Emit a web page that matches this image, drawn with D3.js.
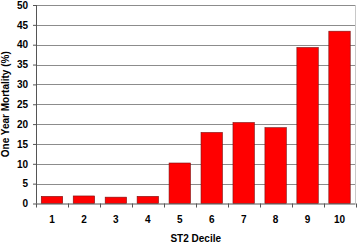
<!DOCTYPE html>
<html lang=en>
<head>
<meta charset="utf-8">
<style>
  body { margin: 0; background: #fff; }
  svg { font-family: 'Liberation Sans', Arial, sans-serif; font-weight: bold; }
  .grid line { stroke: #8c8c8c; stroke-width: 1; }
  .axis text { font-size: 10px; fill: #000; font-weight: bold; }
</style>
<script src="https://d3js.org/d3.v7.min.js"></script>
</head>
<body>
<div id="chart"></div>
<script>
// deciles and one-year mortality (%)
var deciles = ["1", "2", "3", "4", "5", "6", "7", "8", "9", "10"];
var mortality = [1.8, 1.9, 1.6, 1.8, 10.2, 17.9, 20.4, 19.1, 39.3, 43.4];
var yTicks = [0, 5, 10, 15, 20, 25, 30, 35, 40, 45, 50];

(function() {
  var width = 357, height = 243;
  var margin = {top: 5, right: 1.5, bottom: 39.5, left: 36};
  var w = width - margin.left - margin.right,
      h = height - margin.top - margin.bottom;

  var svg = d3.select("#chart").append("svg")
      .attr("width", width)
      .attr("height", height);
  var g = svg.append("g")
      .attr("transform", "translate(" + margin.left + "," + margin.top + ")");

  var x = d3.scaleBand()
      .domain(deciles)
      .range([0, w])
      .paddingInner(0.33)
      .paddingOuter(0.165);
  var y = d3.scaleLinear()
      .domain([0, 50])
      .range([h, 0]);

  // gridlines
  g.append("g")
      .attr("class", "grid")
    .selectAll("line")
    .data(yTicks.slice(1))
    .enter().append("line")
      .attr("x1", 0)
      .attr("x2", w)
      .attr("y1", function(d) { return Math.round(y(d)) + 0.5; })
      .attr("y2", function(d) { return Math.round(y(d)) + 0.5; })
      .attr("stroke", function(d) { return d === 50 ? "#c8c8c8" : "#8c8c8c"; });

  // right border
  g.append("line")
      .attr("x1", w).attr("x2", w)
      .attr("y1", Math.round(y(50)) + 0.5).attr("y2", h)
      .attr("stroke", "#c8c8c8");

  // bars
  g.append("g")
    .selectAll("rect")
    .data(mortality)
    .enter().append("rect")
      .attr("x", function(d, i) { return x(deciles[i]); })
      .attr("y", function(d) { return y(d); })
      .attr("width", x.bandwidth())
      .attr("height", function(d) { return h - y(d); })
      .attr("fill", "#ff0000")
      .attr("stroke", "#7a1010")
      .attr("stroke-width", 0.6);

  // y axis
  var yAxis = g.append("g")
      .attr("class", "axis")
      .call(d3.axisLeft(y).tickValues(yTicks).tickSize(3).tickPadding(5));
  yAxis.select(".domain").attr("stroke", "#555").attr("d", "M0.5," + h + "V" + y(50));
  yAxis.selectAll(".tick line").attr("stroke", "#555");

  // x axis with ticks between categories
  var xAxis = g.append("g")
      .attr("class", "axis")
      .attr("transform", "translate(0," + h + ")")
      .call(d3.axisBottom(x).tickSize(0).tickPadding(12));
  xAxis.select(".domain").attr("stroke", "#555").attr("d", "M0," + 0.5 + "H" + w);
  var step = x.step();
  xAxis.selectAll(".sep")
    .data(d3.range(0, deciles.length + 1))
    .enter().append("line")
      .attr("class", "sep")
      .attr("x1", function(d) { return Math.round(d * step) + 0.5; })
      .attr("x2", function(d) { return Math.round(d * step) + 0.5; })
      .attr("y1", 0)
      .attr("y2", 4)
      .attr("stroke", "#555");

  // axis titles
  svg.append("text")
      .attr("x", margin.left + w / 2)
      .attr("y", 242)
      .attr("text-anchor", "middle")
      .attr("font-size", "10px")
      .text("ST2 Decile");
  svg.append("text")
      .attr("transform", "translate(9," + (margin.top + h / 2) + ") rotate(-90)")
      .attr("text-anchor", "middle")
      .attr("font-size", "10px")
      .text("One Year Mortality (%)");
})();
</script>
</body>
</html>
